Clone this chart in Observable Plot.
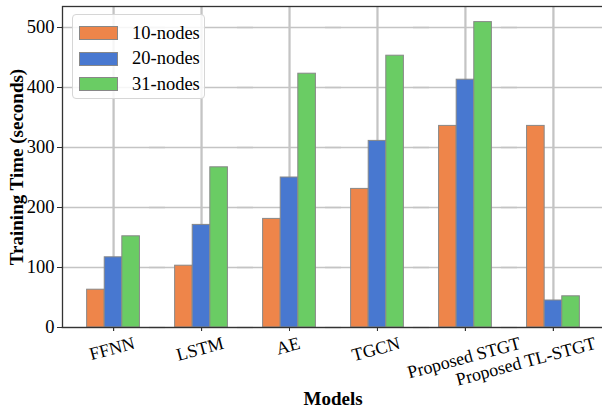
<!DOCTYPE html>
<html>
<head>
<meta charset="utf-8">
<script src="https://cdn.jsdelivr.net/npm/d3@7"></script>
<script src="https://cdn.jsdelivr.net/npm/@observablehq/plot@0.6"></script>
<style>
  html, body { margin: 0; padding: 0; background: white; overflow: hidden; }
  #wrap { position: relative; width: 602px; height: 414px; overflow: hidden; font-family: "Liberation Serif", "Times New Roman", serif; }
  #chart svg { max-width: none !important; display: block; }
  #chart svg, #chart svg text { font-family: "Liberation Serif", "Times New Roman", serif !important; }
  #legend { position: absolute; left: 72px; top: 14px; width: 131px; height: 83px; border: 1px solid #d6d6d6; border-radius: 4px; background: rgba(255,255,255,0.85); }
  .item { position: absolute; left: 6px; height: 20px; display: flex; align-items: center; font-size: 18.5px; color: #000; }
  .sw { width: 37px; height: 12px; border: 1px solid #888; margin-right: 14px; }
</style>
</head>
<body>
<div id="wrap"><div id="chart"></div><div id="legend"></div></div>
<script>
const models = ["FFNN", "LSTM", "AE", "TGCN", "Proposed STGT", "Proposed TL-STGT"];
const series = ["10-nodes", "20-nodes", "31-nodes"];
const nodes10 = [63, 103, 181, 231, 336, 336];
const nodes20 = [117, 171, 250, 311, 413, 45];
const nodes31 = [152, 267, 423, 453, 509, 52];
const colors = ["#EE854A", "#4878D0", "#6ACC64"];
const yTicks = [0, 100, 200, 300, 400, 500];

const seriesValues = [nodes10, nodes20, nodes31];
const data = models.flatMap((m, i) => series.map((s, j) => ({model: m, series: s, value: seriesValues[j][i]})));

// axes box: left spine at 62, right spine just past the window edge (604)
const W = 602, H = 414, MB = 87, MT = 6;
const frameLeft = 62, frameRight = 604, outer = 0.08;
const step = (frameRight - frameLeft) / (models.length + 2 * outer);
const pad = outer * step; // gap between the spine and the first/last group
const ML = frameLeft + pad, MR = W - (frameRight - pad);

const plot = Plot.plot({
  width: W, height: H,
  marginLeft: ML, marginRight: MR, marginTop: MT, marginBottom: MB,
  style: "font-family: 'Liberation Serif', 'Times New Roman', serif; font-size: 18px; background: white; color: black; max-width: none;",
  fx: {domain: models, paddingInner: 0, paddingOuter: 0, round: false, axis: null, label: null},
  x: {domain: series, paddingInner: 0, paddingOuter: 1, round: false, axis: null},
  y: {domain: [0, 535], axis: null},
  color: {domain: series, range: colors},
  marks: [
    Plot.ruleY(yTicks, {stroke: "#c4c4c4", strokeWidth: 1.3, insetLeft: -pad - 1, insetRight: -pad - 1}),
    Plot.gridFx(models, {stroke: "#c4c4c4", strokeOpacity: 1, strokeWidth: 1.3}),
    Plot.barY(data, {fx: "model", x: "series", y: "value", fill: "series", stroke: "#888", strokeWidth: 1}),
    Plot.axisY(yTicks, {anchor: "left", dx: -pad, tickSize: 5, tickPadding: 3, label: null, stroke: "#333", fill: "black", fontSize: 18.5}),
    Plot.axisFx(models, {anchor: "bottom", tickSize: 4, tickFormat: () => "", label: null, stroke: "#333"}),
    Plot.frame({facet: "super", insetLeft: -pad, insetRight: -pad, stroke: "#333", strokeWidth: 1.3}),
    Plot.text(models, {fx: d => d, text: d => d, frameAnchor: "bottom", textAnchor: "middle", dy: 20, rotate: -15, fontSize: 18, fill: "black", className: "xlab"}),
    Plot.text(["Models"], {facet: "super", frameAnchor: "bottom", textAnchor: "middle", dy: 72, fontSize: 19, fontWeight: "bold", fill: "black", className: "xtitle"}),
    Plot.text(["Training Time (seconds)"], {facet: "super", frameAnchor: "left", textAnchor: "middle", dx: -52, rotate: -90, fontSize: 19, fontWeight: "bold", fill: "black", className: "ytitle"})
  ]
});
document.getElementById("chart").appendChild(plot);

const svgRect = plot.getBoundingClientRect();
function shift(t, dx, dy) {
  t.setAttribute("transform", `translate(${dx},${dy}) ` + (t.getAttribute("transform") || ""));
}
// rotated x labels: top of each rotated box just under the axis, kept inside the window
const targetTop = H - MB + 6;
plot.querySelectorAll(".xlab text").forEach(t => {
  const r = t.getBoundingClientRect();
  shift(t, Math.min(0, W - 4 - (r.right - svgRect.left)), targetTop - (r.top - svgRect.top));
});
// axis titles
plot.querySelectorAll(".ytitle text").forEach(t => {
  const r = t.getBoundingClientRect();
  shift(t, 17 - ((r.left + r.right) / 2 - svgRect.left), 0);
});
plot.querySelectorAll(".xtitle text").forEach(t => {
  const r = t.getBoundingClientRect();
  shift(t, (frameLeft + frameRight) / 2 - ((r.left + r.right) / 2 - svgRect.left), 398 - ((r.top + r.bottom) / 2 - svgRect.top));
});

// legend
const legend = document.getElementById("legend");
series.forEach((s, j) => {
  const item = document.createElement("div");
  item.className = "item";
  item.style.top = (8 + j * 25.5) + "px";
  const sw = document.createElement("div");
  sw.className = "sw";
  sw.style.background = colors[j];
  const label = document.createElement("span");
  label.textContent = s;
  item.appendChild(sw);
  item.appendChild(label);
  legend.appendChild(item);
});
</script>
</body>
</html>
